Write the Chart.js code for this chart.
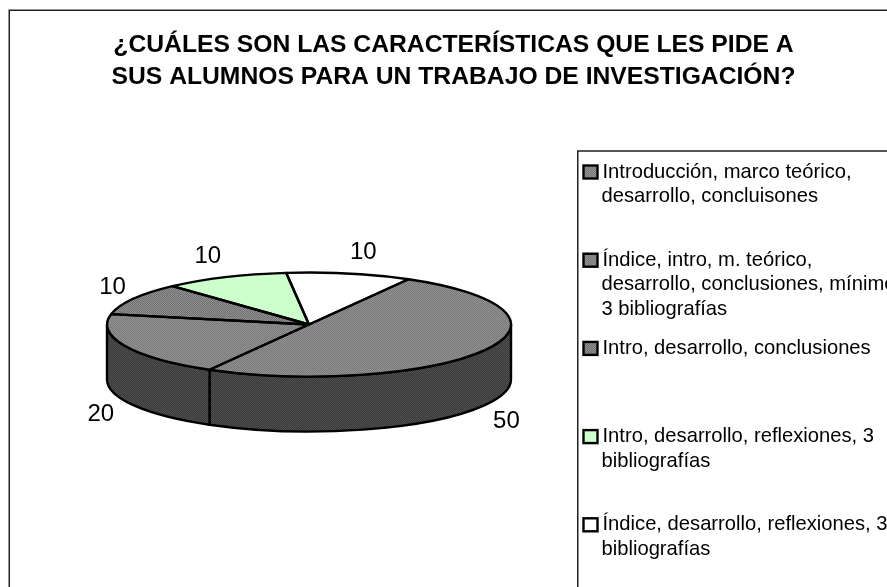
<!DOCTYPE html>
<html lang="es">
<head>
<meta charset="utf-8">
<title>Características de un trabajo de investigación</title>
<style>html,body{margin:0;padding:0;background:#fff;overflow:hidden}#wrap{width:887px;height:587px}</style>
<script src="https://cdn.jsdelivr.net/npm/chart.js@4/dist/chart.umd.min.js"></script>
</head>
<body>
<div id="wrap"><canvas id="c" width="887" height="587"></canvas></div>
<script>
const titleLines = ['¿CUÁLES SON LAS CARACTERÍSTICAS QUE LES PIDE A', 'SUS ALUMNOS PARA UN TRABAJO DE INVESTIGACIÓN?'];
const categories = [
  ['Introducción, marco teórico,', 'desarrollo, concluisones'],
  ['Índice, intro, m. teórico,', 'desarrollo, conclusiones, mínimo', '3 bibliografías'],
  ['Intro, desarrollo, conclusiones'],
  ['Intro, desarrollo, reflexiones, 3', 'bibliografías'],
  ['Índice, desarrollo, reflexiones, 3', 'bibliografías']
];
const values = [50, 20, 10, 10, 10];

const FONT = '"Liberation Sans", Arial, sans-serif';
const SQUASH = 0.2574, DEPTH = 55, ROTATION = 29.5, RADIUS = 202;
const labelDx = [4, -6, -3, -9, 10], labelDy = [4, 3, 0, 1, 2];

function pattern(a, b, scaleY) {
  const t = document.createElement('canvas');
  t.width = t.height = 2;
  const x = t.getContext('2d');
  x.fillStyle = a; x.fillRect(0, 0, 2, 2);
  x.fillStyle = b; x.fillRect(0, 0, 1, 1); x.fillRect(1, 1, 1, 1);
  const p = document.getElementById('c').getContext('2d').createPattern(t, 'repeat');
  if (scaleY) p.setTransform(new DOMMatrix().scale(1, scaleY));
  return p;
}
const swatch = [pattern('#777777', '#939393'), pattern('#7d7d7d', '#8f8f8f'), pattern('#6e6e6e', '#929292'), '#ccffcc', '#ffffff'];
const topFill = [pattern('#777777', '#939393', 1 / SQUASH), pattern('#7d7d7d', '#8f8f8f', 1 / SQUASH), pattern('#6e6e6e', '#929292', 1 / SQUASH), '#ccffcc', '#ffffff'];
const sideFill = [pattern('#3a3a3a', '#4e4e4e'), pattern('#3c3c3c', '#4c4c4c')];

/* Legend panel as a layout box: it takes the right of the chart, as the original does. */
const legendBox = {
  position: 'right', weight: 1, fullSize: false, options: {},
  left: 0, right: 0, top: 0, bottom: 0, width: 0, height: 0,
  isHorizontal() { return false; },
  update(maxW, maxH) { this.width = 289; this.height = maxH; return { w: this.width, h: this.height }; },
  draw() {
    const ctx = this.ctx;
    ctx.save();
    ctx.strokeStyle = '#222'; ctx.lineWidth = 1.5;
    ctx.strokeRect(577.75, 151, 400, 600);
    ctx.textBaseline = 'middle'; ctx.textAlign = 'left';
    ctx.font = '20.2px ' + FONT;
    categories.forEach((lines, i) => {
      const y = 172 + i * 88.2;
      ctx.fillStyle = swatch[i];
      ctx.fillRect(583.5, y - 6.5, 14, 13);
      ctx.strokeStyle = '#000'; ctx.lineWidth = 2.4;
      ctx.strokeRect(583.5, y - 6.5, 14, 13);
      ctx.fillStyle = '#000';
      lines.forEach((t, j) => ctx.fillText(t, j === 0 ? 602.5 : 601.5, y + j * 24.6));
    });
    ctx.restore();
  }
};

const pie3d = {
  id: 'pie3d',
  beforeInit(chart) { legendBox.ctx = chart.ctx; Chart.layouts.addBox(chart, legendBox); },
  beforeDraw(chart) {
    const ctx = chart.ctx;
    ctx.save();
    ctx.fillStyle = '#fff'; ctx.fillRect(0, 0, chart.width, chart.height);
    ctx.strokeStyle = '#222'; ctx.lineWidth = 1.5;
    ctx.strokeRect(9.25, 10.25, 1000, 1000);
    ctx.restore();
  },
  beforeDatasetDraw(chart) {
    const ctx = chart.ctx, arcs = chart.getDatasetMeta(0).data;
    ctx.save();
    ctx.lineJoin = 'round'; ctx.strokeStyle = '#000'; ctx.lineWidth = 2.4;
    arcs.forEach((arc, i) => {
      const a = Math.max(arc.startAngle, 0), b = Math.min(arc.endAngle, Math.PI);
      if (b <= a) return;
      const rx = arc.outerRadius, ry = rx * SQUASH;
      ctx.beginPath();
      ctx.ellipse(arc.x, arc.y, rx, ry, 0, a, b);
      ctx.ellipse(arc.x, arc.y + DEPTH, rx, ry, 0, b, a, true);
      ctx.closePath();
      ctx.fillStyle = sideFill[i];
      ctx.fill(); ctx.stroke();
    });
    ctx.restore();
    const c = arcs[0];
    ctx.save();
    ctx.translate(c.x, c.y); ctx.scale(1, SQUASH); ctx.translate(-c.x, -c.y);
  },
  afterDatasetDraw(chart) {
    const ctx = chart.ctx, arcs = chart.getDatasetMeta(0).data;
    ctx.restore();
    ctx.save();
    ctx.lineJoin = 'round'; ctx.strokeStyle = '#000'; ctx.lineWidth = 2.4;
    arcs.forEach(arc => {
      const rx = arc.outerRadius, ry = rx * SQUASH;
      ctx.beginPath();
      ctx.moveTo(arc.x, arc.y);
      ctx.ellipse(arc.x, arc.y, rx, ry, 0, arc.startAngle, arc.endAngle);
      ctx.closePath();
      ctx.stroke();
    });
    /* value labels, placed outside each slice's mid-angle */
    ctx.fillStyle = '#000'; ctx.textAlign = 'center'; ctx.textBaseline = 'middle';
    ctx.font = '24px ' + FONT;
    arcs.forEach((arc, i) => {
      const m = (arc.startAngle + arc.endAngle) / 2;
      const x = arc.x + Math.cos(m) * arc.outerRadius * 1.1 + labelDx[i];
      const y = arc.y + Math.sin(m) * 76 + (Math.sin(m) > 0 ? DEPTH : 0) + labelDy[i];
      ctx.fillText(String(values[i]), x, y);
    });
    ctx.restore();
  }
};

new Chart(document.getElementById('c'), {
  type: 'pie',
  data: {
    labels: categories.map(l => l.join(' ')),
    datasets: [{ data: values, backgroundColor: topFill, borderWidth: 0, clip: false }]
  },
  plugins: [pie3d],
  options: {
    responsive: false,
    animation: false,
    events: [],
    rotation: ROTATION,
    radius: RADIUS,
    layout: { padding: { left: 20, right: 0, top: 0, bottom: 31 } },
    plugins: {
      legend: { display: false },
      tooltip: { enabled: false },
      title: {
        display: true,
        text: titleLines,
        color: '#000',
        font: { family: FONT, size: 24.7, weight: 'bold', lineHeight: 1.296 },
        padding: { top: 29, bottom: 0 }
      }
    }
  }
});
</script>
</body>
</html>
